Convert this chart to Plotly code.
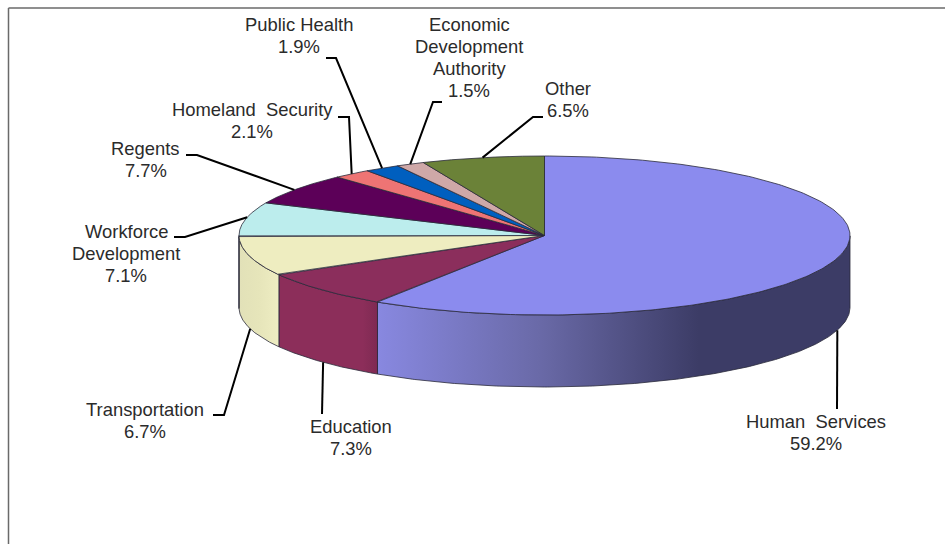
import numpy as np
import plotly.graph_objects as go

# Budget share by department, clockwise from twelve o'clock
departments = ["Human Services", "Education", "Transportation", "Workforce Development",
               "Regents", "Homeland Security", "Public Health",
               "Economic Development Authority", "Other"]
shares = [59.2, 7.3, 6.7, 7.1, 7.7, 2.1, 1.9, 1.5, 6.5]
top_colors = ["#8B8BEE", "#8B2E5C", "#EEEDC0", "#BCEDED", "#5C0058",
              "#EE7474", "#005FBF", "#CFA8A8", "#6B8238"]

# Shading of the visible rim, per slice
rim_scales = {
    "Human Services": [[0, "#8888E0"], [0.34, "#6A6AA8"], [0.68, "#3C3C66"], [1, "#3C3C66"]],
    "Education": [[0, "#8C2E5A"], [0.85, "#8C2E5A"], [1, "#7E2A52"]],
    "Transportation": [[0, "#E2E1B8"], [0.5, "#E6E5BA"], [1, "#EEEDC2"]],
    "Workforce Development": [[0, "#E2E1B8"], [1, "#E2E1B8"]],
}

# Label layout: wrapped text, centre of the first line, leader's elbow and free end
label_lines = {
    "Human Services": ["Human\u00a0 Services"],
    "Education": ["Education"],
    "Transportation": ["Transportation"],
    "Workforce Development": ["Workforce", "Development"],
    "Regents": ["Regents"],
    "Homeland Security": ["Homeland\u00a0 Security"],
    "Public Health": ["Public Health"],
    "Economic Development Authority": ["Economic", "Development", "Authority"],
    "Other": ["Other"],
}
label_xy = {
    "Human Services": (816, 421),
    "Education": (351, 426),
    "Transportation": (144.5, 409),
    "Workforce Development": (126, 231),
    "Regents": (145.5, 148),
    "Homeland Security": (252, 109),
    "Public Health": (299, 24),
    "Economic Development Authority": (469, 24),
    "Other": (568, 88),
}
leader_path = {
    "Human Services": [(837, 409)],
    "Education": [(322, 414)],
    "Transportation": [(224, 415), (213, 415)],
    "Workforce Development": [(185, 237), (174, 237)],
    "Regents": [(197, 155), (186, 155)],
    "Homeland Security": [(349, 117), (338, 117)],
    "Public Health": [(336, 58), (326, 58)],
    "Economic Development Authority": [(433, 102), (442, 102)],
    "Other": [(533, 117), (543, 117)],
}

CX, CY, RX, RY, DEPTH = 544.5, 235.5, 305.5, 79.5, 72
LINE_STEP = 22
OUTLINE = "#2A2A3A"
TEXT = "#2B2B2B"


def tilt(angle_deg):
    # Foreshortening of the tilted disc: slices near nine o'clock sit a little further round
    return angle_deg + 7.0 * np.exp(-((angle_deg - 275.0) ** 2) / (2 * 18.0 ** 2))


def rim_point(angle_deg, drop=0.0):
    a = np.radians(tilt(angle_deg))
    return CX + RX * np.sin(a), CY - RY * np.cos(a) + drop


edges = np.cumsum([0] + shares) * 3.6
fig = go.Figure()


def near_side(arc):
    # Keeps the part of an arc whose rim faces the viewer (90 to 270 degrees on screen)
    shown = tilt(arc)
    return arc[(shown >= 90) & (shown <= 270)]


# Rim faces
for name, start, end, color in zip(departments, edges[:-1], edges[1:], top_colors):
    arc = near_side(np.linspace(start, end, 400))
    if arc.size < 2:
        continue
    xs_top, ys_top = rim_point(arc)
    xs_low, ys_low = rim_point(arc[::-1], DEPTH)
    scale = rim_scales.get(name, [[0, color], [1, color]])
    fig.add_trace(go.Scatter(
        x=np.r_[xs_top, xs_low, xs_top[0]], y=np.r_[ys_top, ys_low, ys_top[0]],
        mode="lines", fill="toself", line=dict(color=OUTLINE, width=0.8),
        fillgradient=dict(type="horizontal", colorscale=scale),
        hoverinfo="skip", showlegend=False))

# Top face wedges
for name, start, end, color in zip(departments, edges[:-1], edges[1:], top_colors):
    arc = np.linspace(start, end, 240)
    xs, ys = rim_point(arc)
    fig.add_trace(go.Scatter(
        x=np.r_[CX, xs, CX], y=np.r_[CY, ys, CY],
        mode="lines", fill="toself", fillcolor=color,
        line=dict(color=OUTLINE, width=0.8),
        hoverinfo="skip", showlegend=False))

# Leaders run from each slice's mid-angle on the rim out to its label
annotations = []
for name, start, end, share in zip(departments, edges[:-1], edges[1:], shares):
    mid = (start + end) / 2
    drop = DEPTH if 90 < tilt(mid) < 270 else 0
    ax, ay = rim_point(mid, drop)
    path = [(ax, ay)] + leader_path[name]
    fig.add_trace(go.Scatter(
        x=[p[0] for p in path], y=[p[1] for p in path],
        mode="lines", line=dict(color="#000000", width=2),
        hoverinfo="skip", showlegend=False))
    lx, ly = label_xy[name]
    for i, line in enumerate(label_lines[name] + [f"{share}%"]):
        annotations.append(dict(
            x=lx, y=ly + i * LINE_STEP, xref="x", yref="y", showarrow=False,
            xanchor="center", yanchor="middle", align="center", text=line))

fig.update_layout(
    width=945, height=544, autosize=False,
    margin=dict(l=0, r=0, t=0, b=0),
    paper_bgcolor="white", plot_bgcolor="white",
    font=dict(family="Liberation Sans, Arial, sans-serif", size=18.4, color=TEXT),
    xaxis=dict(range=[0, 945], visible=False, fixedrange=True),
    yaxis=dict(range=[544, 0], visible=False, fixedrange=True),
    annotations=annotations,
    # Chart frame: top and left edges
    shapes=[
        dict(type="line", xref="x", yref="y", x0=8.5, y0=8, x1=945, y1=8,
             line=dict(color="#6A6A6A", width=1.5)),
        dict(type="line", xref="x", yref="y", x0=8.5, y0=8, x1=8.5, y1=544,
             line=dict(color="#6A6A6A", width=1.5)),
    ],
)

fig.write_html("out.html", config=dict(displayModeBar=False))
